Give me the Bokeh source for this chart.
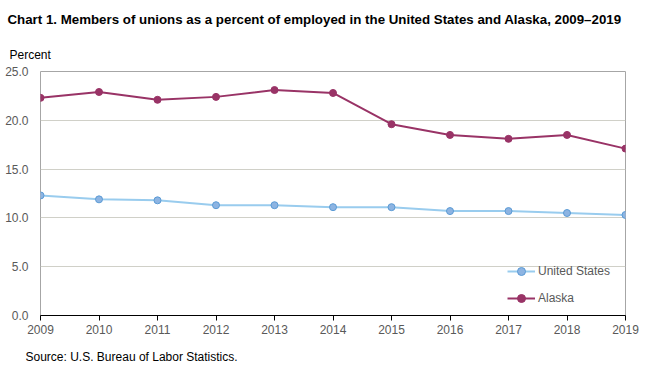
from bokeh.plotting import figure
from bokeh.models import Range1d, Title, Legend, LegendItem, FixedTicker, NumeralTickFormatter
from bokeh.embed import file_html
from bokeh.resources import INLINE

years = [2009, 2010, 2011, 2012, 2013, 2014, 2015, 2016, 2017, 2018, 2019]
united_states = [12.3, 11.9, 11.8, 11.3, 11.3, 11.1, 11.1, 10.7, 10.7, 10.5, 10.3]
alaska = [22.3, 22.9, 22.1, 22.4, 23.1, 22.8, 19.6, 18.5, 18.1, 18.5, 17.1]
y_ticks = [0, 5, 10, 15, 20, 25]

FONT = "Liberation Sans"

p = figure(width=640, height=376, output_backend="svg", toolbar_location=None,
           x_range=Range1d(2009, 2019), y_range=Range1d(0, 25),
           min_border_left=40, min_border_right=15, min_border_top=71, min_border_bottom=61)

p.title.text = "Chart 1. Members of unions as a percent of employed in the United States and Alaska, 2009\u20132019"
p.title.text_font = FONT
p.title.text_font_size = "13.3px"
p.title.text_font_style = "bold"
p.title.text_color = "#000000"
p.title.offset = -33
p.title.standoff = 19

p.add_layout(Title(text="Percent", text_font=FONT, text_font_size="12px",
                   text_font_style="normal", text_color="#000000", offset=-31,
                   standoff=19), "above")
p.add_layout(Title(text="Source: U.S. Bureau of Labor Statistics.", text_font=FONT,
                   text_font_size="12px", text_font_style="normal", text_color="#000000",
                   offset=-15, standoff=22), "below")

p.outline_line_color = "#A6A6A6"
p.background_fill_color = "white"
p.border_fill_color = "white"

p.xgrid.grid_line_color = None
p.ygrid.grid_line_color = "#D0D0C8"
p.ygrid.ticker = FixedTicker(ticks=y_ticks)

p.xaxis.ticker = FixedTicker(ticks=years)
p.xaxis.axis_line_color = "#000000"
p.xaxis.major_tick_line_color = "#000000"
p.xaxis.major_tick_in = 0
p.xaxis.major_tick_out = 5
p.xaxis.minor_tick_line_color = None
p.xaxis.major_label_text_font = FONT
p.xaxis.major_label_text_font_size = "12px"
p.xaxis.major_label_text_color = "#595959"
p.xaxis.major_label_standoff = 4

p.yaxis.ticker = FixedTicker(ticks=y_ticks)
p.yaxis.formatter = NumeralTickFormatter(format="0.0")
p.yaxis.axis_line_color = None
p.yaxis.major_tick_line_color = None
p.yaxis.minor_tick_line_color = None
p.yaxis.major_label_text_font = FONT
p.yaxis.major_label_text_font_size = "12px"
p.yaxis.major_label_text_color = "#595959"
p.yaxis.major_label_standoff = 6

us_line = p.line(years, united_states, line_color="#99CCEE", line_width=2)
us_pts = p.scatter(years, united_states, size=7, fill_color="#8DB4E2", line_color="#5B9BD5", line_width=1)
ak_line = p.line(years, alaska, line_color="#993366", line_width=2)
ak_pts = p.scatter(years, alaska, size=7, fill_color="#993366", line_color="#993366", line_width=1)

legend = Legend(items=[LegendItem(label="United States", renderers=[us_line, us_pts]),
                       LegendItem(label="Alaska", renderers=[ak_line, ak_pts])],
                location=(467, 7), border_line_color=None, background_fill_alpha=0,
                label_text_font=FONT, label_text_font_size="12px", label_text_color="#595959",
                glyph_width=28, glyph_height=20, label_height=20, spacing=7,
                label_standoff=3, padding=4, margin=0)
p.add_layout(legend)

open("out.html", "w").write(file_html(p, INLINE))
